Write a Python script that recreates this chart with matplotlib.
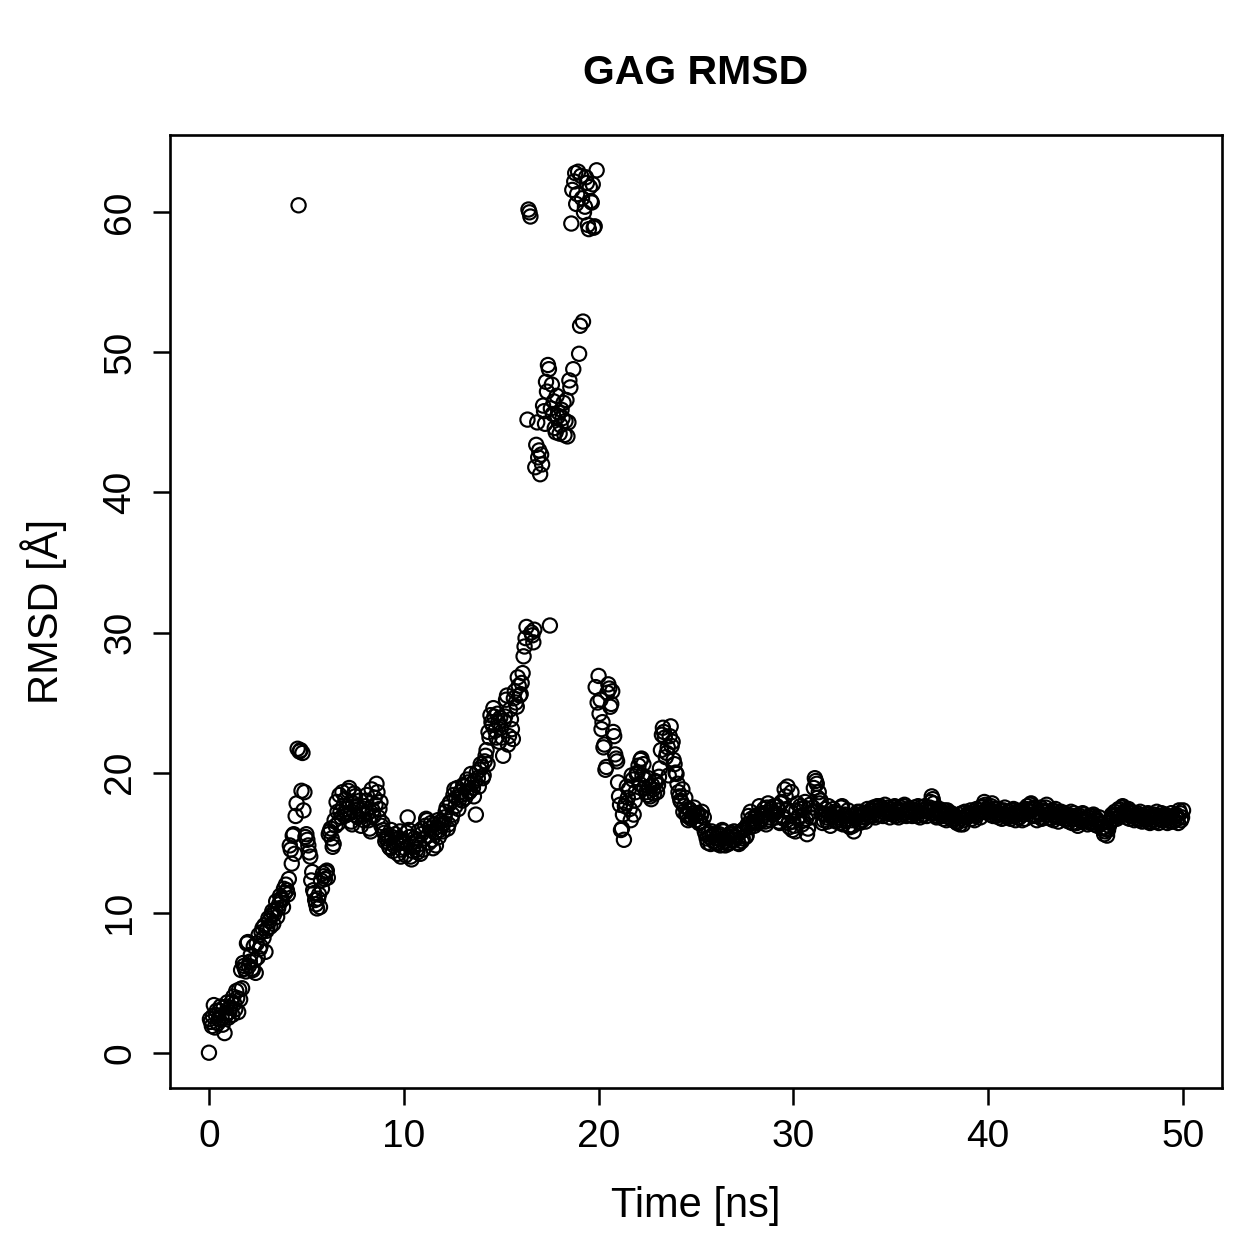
import numpy as np
import matplotlib
matplotlib.use("Agg")
import matplotlib.pyplot as plt

plt.rcParams['font.family'] = ['Liberation Sans', 'DejaVu Sans']

# RMSD values at t = k + 0.0, 0.1, ..., 0.9 ns (one row per ns), last row t = 50.0
rmsd_chunks = [
    [0.0, 2.2, 2.6, 1.8, 3.0, 2.4, 3.3, 2.0, 1.4, 2.8],            # 0
    [2.5, 3.2, 2.7, 3.5, 4.4, 2.9, 3.8, 4.6, 6.2, 5.8],            # 1
    [7.9, 6.5, 6.0, 7.6, 5.7, 6.8, 7.4, 8.6, 8.2, 7.2],            # 2
    [8.9, 9.4, 9.8, 9.2, 10.2, 9.7, 10.6, 11.0, 10.4, 11.4],       # 3
    [11.6, 12.4, 14.5, 15.5, 14.2, 17.8, 60.5, 21.6, 21.4, 18.6],  # 4
    [15.6, 14.8, 14.0, 12.9, 11.4, 10.6, 11.0, 10.4, 11.7, 12.6],  # 5
    [12.9, 12.5, 15.8, 15.3, 14.9, 16.2, 17.2, 18.4, 16.8, 17.6],  # 6
    [18.1, 17.0, 18.9, 16.5, 17.8, 18.3, 16.9, 17.4, 16.2, 17.0],  # 7
    [17.6, 18.4, 16.6, 15.8, 17.3, 18.2, 19.2, 16.8, 17.9, 16.4],  # 8
    [15.7, 15.3, 15.0, 14.6, 15.4, 14.8, 15.2, 14.2, 15.8, 14.5],  # 9
    [15.0, 14.1, 16.8, 15.4, 13.8, 14.7, 15.1, 14.3, 14.9, 15.6],  # 10
    [14.5, 16.2, 16.6, 15.0, 16.4, 14.6, 15.7, 16.1, 15.4, 16.5],  # 11
    [15.8, 16.8, 17.5, 16.3, 17.9, 17.0, 18.8, 18.2, 17.4, 18.6],  # 12
    [18.0, 19.0, 18.5, 19.3, 18.7, 19.2, 18.3, 17.0, 19.6, 20.2],  # 13
    [20.4, 19.8, 21.2, 20.6, 22.5, 23.6, 24.6, 23.0, 24.2, 22.2],  # 14
    [23.2, 21.2, 24.0, 25.5, 22.6, 23.8, 22.4, 25.8, 24.7, 26.2],  # 15
    [25.6, 27.1, 29.0, 30.4, 60.2, 59.7, 29.8, 30.2, 43.4, 42.5],  # 16
    [41.3, 42.0, 45.8, 47.9, 49.1, 30.5, 47.7, 46.5, 44.3, 45.4],  # 17
    [44.2, 45.9, 46.4, 45.1, 44.0, 48.0, 59.2, 48.8, 62.8, 61.3],  # 18
    [49.9, 62.6, 52.2, 60.4, 62.1, 58.8, 60.8, 62.0, 59.0, 63.0],  # 19
    [26.9, 25.2, 23.6, 22.0, 20.4, 26.3, 24.7, 25.8, 22.6, 21.0],  # 20
    [19.3, 17.7, 16.0, 15.2, 17.8, 18.2, 17.4, 19.8, 17.0, 18.6],  # 21
    [20.0, 19.2, 21.0, 20.6, 19.5, 18.4, 19.0, 18.1, 18.8, 19.4],  # 22
    [18.6, 19.7, 21.6, 23.2, 22.5, 21.4, 19.8, 23.3, 22.2, 20.6],  # 23
    [19.9, 18.6, 18.0, 18.8, 17.6, 17.0, 16.6, 17.3, 16.8, 17.5],  # 24
    [16.6, 17.1, 16.5, 17.2, 16.8, 15.6, 15.0, 15.4, 15.8, 15.1],  # 25
    [15.3, 14.9, 15.6, 15.2, 15.8, 14.8, 15.4, 15.0, 15.7, 15.2],  # 26
    [15.2, 15.6, 14.9, 15.8, 15.3, 16.0, 15.5, 16.9, 17.2, 16.4],  # 27
    [16.2, 16.8, 17.0, 16.5, 16.9, 17.4, 16.3, 17.8, 16.6, 17.2],  # 28
    [17.6, 16.8, 17.3, 16.4, 17.9, 16.7, 18.3, 19.0, 16.1, 18.6],  # 29
    [16.5, 15.8, 17.8, 16.9, 17.4, 16.6, 17.9, 15.6, 17.1, 16.8],  # 30
    [17.5, 19.6, 19.2, 18.6, 18.0, 16.4, 17.0, 16.8, 17.6, 16.2],  # 31
    [16.8, 17.2, 16.5, 17.0, 16.4, 17.6, 16.9, 16.6, 17.3, 16.1],  # 32
    [16.6, 15.8, 16.9, 17.2, 16.4, 16.8, 17.1, 16.5, 17.4, 16.9],  # 33
    [17.2, 17.5, 16.8, 17.6, 17.0, 17.4, 16.9, 17.7, 17.3, 17.1],  # 34
    [17.4, 17.0, 17.6, 17.2, 16.8, 17.5, 17.3, 17.7, 16.9, 17.4],  # 35
    [17.2, 16.9, 17.5, 17.1, 17.6, 16.8, 17.3, 17.0, 17.4, 17.2],  # 36
    [17.5, 18.3, 17.8, 17.1, 16.9, 17.4, 17.2, 16.7, 17.0, 17.3],  # 37
    [16.8, 17.1, 16.6, 16.9, 16.4, 17.0, 16.7, 16.3, 17.2, 16.8],  # 38
    [16.9, 17.3, 17.0, 16.6, 17.4, 17.1, 16.8, 17.6, 17.9, 17.2],  # 39
    [17.5, 17.0, 17.8, 17.2, 16.9, 17.4, 17.1, 16.7, 17.3, 17.0],  # 40
    [16.8, 17.2, 16.9, 17.4, 16.6, 17.1, 16.8, 17.3, 17.0, 16.7],  # 41
    [17.6, 17.2, 17.8, 16.9, 17.4, 16.6, 17.1, 17.5, 16.8, 17.2],  # 42
    [17.7, 17.0, 16.7, 17.3, 16.9, 17.2, 16.5, 17.0, 16.8, 17.1],  # 43
    [16.6, 17.0, 16.8, 16.4, 17.1, 16.7, 16.2, 16.9, 16.5, 17.0],  # 44
    [16.7, 16.3, 16.9, 16.5, 17.0, 16.6, 16.2, 16.8, 16.4, 16.1],  # 45
    [15.8, 15.5, 16.2, 16.6, 16.9, 17.2, 16.7, 17.4, 17.0, 17.6],  # 46
    [17.2, 16.8, 17.4, 16.9, 17.1, 16.6, 17.0, 16.7, 17.2, 16.5],  # 47
    [16.9, 16.6, 17.1, 16.4, 16.8, 17.0, 16.5, 16.9, 16.7, 17.1],  # 48
    [16.6, 16.9, 16.4, 16.8, 17.1, 16.5, 16.9, 16.7, 17.3, 16.6],  # 49
    [17.3],                                                        # 50
]

# RMSD values at the intermediate frames t = k + 0.05, 0.15, ..., 0.95 ns
rmsd_half_chunks = [
    [2.4, 1.9, 3.4, 2.7, 2.1, 3.0, 2.5, 3.2, 2.6, 3.6],            # 0
    [2.9, 3.6, 4.0, 3.1, 3.9, 4.5, 5.9, 6.4, 6.0, 7.8],            # 1
    [6.2, 7.0, 5.9, 6.6, 7.8, 8.4, 7.6, 8.9, 9.1, 8.7],            # 2
    [9.6, 9.0, 10.1, 9.9, 10.8, 10.3, 11.2, 10.9, 11.7, 12.0],     # 3
    [11.3, 14.8, 13.5, 15.6, 16.9, 21.7, 21.5, 18.7, 17.3, 15.4],  # 4
    [15.2, 14.3, 12.3, 11.6, 10.9, 10.3, 11.3, 12.3, 12.8, 12.4],  # 5
    [13.0, 15.6, 16.0, 14.7, 16.6, 17.9, 16.4, 17.2, 18.6, 16.9],  # 6
    [17.4, 18.7, 17.1, 16.3, 18.5, 17.6, 16.8, 18.0, 17.3, 16.6],  # 7
    [18.0, 17.1, 16.0, 18.8, 16.9, 17.7, 18.6, 17.4, 16.2, 15.9],  # 8
    [15.1, 15.5, 14.7, 15.9, 14.4, 15.6, 14.9, 15.3, 14.0, 15.2],  # 9
    [14.6, 15.7, 15.9, 14.0, 14.4, 15.3, 14.5, 15.8, 14.2, 16.0],  # 10
    [15.3, 16.7, 15.5, 16.0, 15.2, 16.3, 14.8, 16.6, 15.9, 16.2],  # 11
    [16.4, 17.2, 16.0, 17.8, 16.7, 18.4, 17.6, 18.9, 18.1, 18.4],  # 12
    [19.1, 18.2, 19.5, 18.6, 19.9, 18.9, 19.4, 20.0, 19.0, 20.6],  # 13
    [19.6, 20.8, 21.6, 22.9, 24.1, 23.4, 24.0, 22.5, 23.6, 23.9],  # 14
    [22.5, 23.7, 25.2, 22.0, 24.5, 23.1, 25.3, 25.0, 26.8, 25.5],  # 15
    [26.4, 28.3, 29.6, 45.2, 60.0, 30.0, 29.3, 41.8, 45.0, 43.0],  # 16
    [42.7, 46.2, 44.9, 47.2, 48.8, 46.0, 45.6, 44.6, 46.9, 45.7],  # 17
    [44.8, 45.3, 44.1, 46.6, 45.0, 47.5, 61.6, 62.2, 60.6, 62.9],  # 18
    [51.9, 61.0, 60.0, 62.5, 59.1, 61.8, 60.7, 58.9, 26.1, 25.0],  # 19
    [24.2, 23.1, 21.8, 20.2, 25.7, 26.0, 24.9, 22.9, 21.3, 20.8],  # 20
    [18.3, 15.9, 17.0, 17.6, 19.0, 18.8, 16.6, 19.5, 18.0, 19.9],  # 21
    [20.5, 20.9, 19.8, 18.9, 18.6, 19.6, 18.3, 19.1, 18.5, 19.3],  # 22
    [19.1, 20.3, 22.7, 22.9, 21.1, 21.8, 22.6, 21.9, 20.9, 20.0],  # 23
    [19.2, 18.3, 17.9, 17.2, 18.2, 16.9, 17.4, 16.7, 17.1, 16.9],  # 24
    [17.0, 16.4, 16.9, 16.2, 15.8, 15.3, 15.7, 14.9, 15.5, 15.6],  # 25
    [15.0, 15.5, 14.8, 15.9, 15.3, 15.1, 14.9, 15.6, 15.2, 15.8],  # 26
    [15.4, 15.0, 15.7, 15.1, 15.9, 15.4, 16.3, 16.1, 16.7, 16.5],  # 27
    [16.9, 16.4, 17.6, 16.7, 17.1, 16.5, 17.5, 16.8, 17.4, 17.0],  # 28
    [17.1, 17.6, 16.5, 17.8, 16.9, 18.8, 17.4, 16.4, 17.2, 15.9],  # 29
    [16.2, 17.3, 16.8, 17.6, 16.3, 17.5, 16.7, 16.0, 17.7, 17.2],  # 30
    [18.9, 19.4, 18.2, 17.8, 17.1, 16.6, 17.4, 16.5, 17.0, 16.9],  # 31
    [17.4, 16.6, 17.1, 16.8, 17.5, 16.3, 17.0, 16.7, 16.2, 16.9],  # 32
    [16.2, 16.7, 17.0, 16.5, 17.2, 16.6, 17.0, 16.8, 17.1, 17.3],  # 33
    [16.9, 17.3, 17.5, 17.0, 17.6, 17.2, 17.4, 17.1, 17.5, 16.8],  # 34
    [17.1, 17.5, 16.9, 17.4, 17.2, 17.0, 17.6, 17.1, 17.3, 17.0],  # 35
    [17.4, 17.1, 17.3, 16.9, 17.2, 17.5, 17.0, 17.6, 16.9, 17.3],  # 36
    [17.9, 18.1, 17.4, 16.8, 17.2, 17.0, 16.9, 17.3, 16.6, 17.1],  # 37
    [17.0, 16.7, 16.9, 16.5, 16.8, 16.3, 17.1, 16.6, 16.9, 17.0],  # 38
    [17.1, 16.7, 17.2, 16.9, 17.0, 17.3, 17.5, 17.2, 17.7, 17.4],  # 39
    [17.2, 17.6, 16.9, 17.4, 17.1, 16.8, 17.3, 17.0, 17.5, 16.9],  # 40
    [17.0, 16.7, 17.3, 16.9, 17.2, 16.8, 17.1, 16.6, 17.2, 17.4],  # 41
    [17.3, 17.7, 17.0, 17.5, 16.9, 17.2, 17.0, 16.7, 17.3, 17.5],  # 42
    [17.2, 16.8, 17.1, 16.6, 17.4, 16.9, 16.8, 17.2, 16.9, 16.7],  # 43
    [16.9, 16.5, 17.2, 16.7, 16.9, 16.4, 16.8, 16.6, 17.1, 16.6],  # 44
    [16.5, 16.8, 16.4, 16.9, 16.3, 16.7, 16.5, 16.3, 16.0, 15.6],  # 45
    [16.0, 15.9, 16.4, 17.0, 16.7, 17.0, 17.3, 16.9, 17.5, 17.1],  # 46
    [17.0, 17.3, 16.7, 17.2, 16.9, 16.8, 17.1, 16.6, 16.9, 16.8],  # 47
    [16.7, 17.0, 16.5, 16.9, 16.6, 16.8, 17.2, 16.4, 16.9, 16.6],  # 48
    [17.0, 16.7, 16.9, 16.5, 16.8, 16.6, 17.0, 16.4, 17.1, 16.8],  # 49
]

frame_step_ns = 0.1
half_offset_ns = 0.05

time_ns, rmsd = [], []
for k, chunk in enumerate(rmsd_chunks):
    for j, v in enumerate(chunk):
        time_ns.append(k + j * frame_step_ns)
        rmsd.append(v)
for k, chunk in enumerate(rmsd_half_chunks):
    for j, v in enumerate(chunk):
        time_ns.append(k + j * frame_step_ns + half_offset_ns)
        rmsd.append(v)

x_ticks = [0, 10, 20, 30, 40, 50]
y_ticks = [0, 10, 20, 30, 40, 50, 60]
title = "GAG RMSD"
xlabel = "Time [ns]"
ylabel = "RMSD [Å]"

fig = plt.figure(figsize=(12.59, 12.59), dpi=100)
ax = fig.add_axes([170/1259, 1 - 1088/1259, (1222-170)/1259, (1088-135)/1259])

ax.scatter(time_ns, rmsd, s=105, facecolors='none', edgecolors='black', linewidths=1.55)

ax.set_xlim(-2.0, 52.0)
ax.set_ylim(-2.52, 65.52)
ax.set_xticks(x_ticks)
ax.set_yticks(y_ticks)
ax.set_xticklabels([str(t) for t in x_ticks], fontsize=28)
ax.set_yticklabels([str(t) for t in y_ticks], fontsize=28, rotation=90, va='center')
ax.tick_params(axis='both', length=12, width=1.8, direction='out')
ax.tick_params(axis='x', pad=10)
ax.tick_params(axis='y', pad=11)
for s in ax.spines.values():
    s.set_linewidth(1.9)

ax.set_title(title, fontsize=29.5, fontweight='bold', pad=37)
ax.set_xlabel(xlabel, fontsize=30, labelpad=23)
ax.set_ylabel(ylabel, fontsize=30, labelpad=25)

fig.savefig("out.png", dpi=100)
